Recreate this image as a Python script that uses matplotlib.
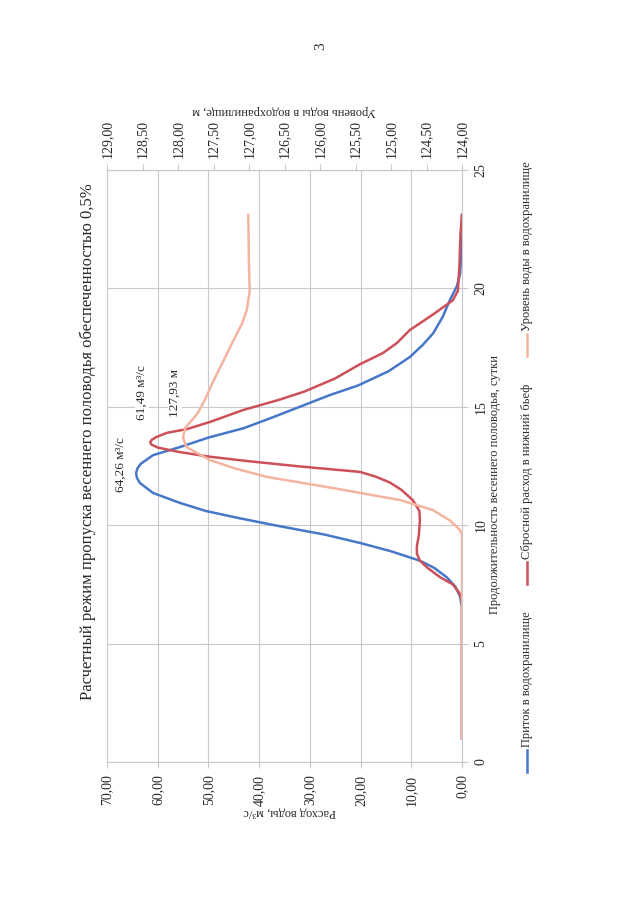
import numpy as np
import matplotlib.pyplot as plt

plt.rcParams['font.family'] = ['Liberation Serif', 'DejaVu Serif']

# inflow into the reservoir, m3/s
inflow_days = [1, 6.5, 7.0, 7.4, 7.8, 8.2, 8.5, 8.9, 9.25, 9.6, 10.0, 10.3, 10.6, 10.94, 11.36,
               11.78, 12.0, 12.2, 12.4, 12.6, 12.96, 13.3, 13.7, 14.1, 14.5, 15.0, 15.5, 15.9,
               16.5, 17.1, 17.6, 18.1, 18.8, 19.5, 20.1, 20.6, 21.5, 23.1]
inflow_q = [0, 0, 0.4, 1.3, 3.0, 5.5, 8.3, 14.0, 20.1, 27.0, 37.0, 44.0, 50.5, 55.6, 60.9,
            63.5, 64.1, 64.26, 64.0, 63.3, 60.9, 55.6, 50.0, 43.0, 38.0, 32.0, 26.0, 20.5,
            14.5, 10.3, 7.8, 5.7, 3.8, 2.4, 1.0, 0.4, 0.1, 0]

# release to the tailwater, m3/s
release_days = [1, 6.8, 7.1, 7.5, 7.8, 8.2, 8.5, 8.8, 9.1, 9.6, 10.2, 10.6, 11.06, 11.5, 11.8,
                12.05, 12.25, 12.48, 12.7, 12.9, 13.1, 13.28, 13.4, 13.5, 13.6, 13.72, 13.9,
                14.06, 14.36, 14.86, 15.3, 15.65, 16.2, 16.8, 17.27, 17.7, 18.24, 18.9, 19.5,
                19.9, 21.0, 22.3, 23.1]
release_q = [0, 0, 0.4, 1.8, 4.3, 6.8, 8.3, 8.9, 8.9, 8.5, 8.3, 8.4, 9.7, 12.0, 14.2,
             17.0, 20.1, 31.9, 42.0, 50.0, 56.0, 60.0, 61.2, 61.49, 61.2, 60.3, 58.2,
             54.2, 49.7, 43.2, 36.0, 31.0, 25.0, 20.1, 15.6, 12.8, 10.3, 5.7, 1.8,
             0.8, 0.5, 0.3, 0]

# water level in the reservoir, m
level_days = [1, 9.6, 9.8, 10.2, 10.64, 11.06, 11.57, 12.04, 12.4, 12.75, 13.3, 13.7, 14.1,
              14.7, 15.3, 16.1, 17.0, 17.8, 18.5, 19.1, 19.9, 20.9, 23.1]
level_h = [124.0, 124.0, 124.03, 124.17, 124.41, 124.87, 125.82, 126.75, 127.2, 127.55,
           127.88, 127.93, 127.9, 127.73, 127.62, 127.5, 127.35, 127.22, 127.1, 127.03,
           126.99, 127.0, 127.01]

flow_ticks = [0, 10, 20, 30, 40, 50, 60, 70]
flow_labels = ['0,00', '10,00', '20,00', '30,00', '40,00', '50,00', '60,00', '70,00']
level_ticks = [124, 124.5, 125, 125.5, 126, 126.5, 127, 127.5, 128, 128.5, 129]
level_labels = ['124,00', '124,50', '125,00', '125,50', '126,00', '126,50', '127,00',
                '127,50', '128,00', '128,50', '129,00']
day_ticks = [0, 5, 10, 15, 20, 25]

series_names = ['Приток в водохранилище', 'Сбросной расход в нижний бьеф',
                'Уровень воды в водохранилище']
colors = ['#4677C8', '#CD5059', '#F4B49E']
grid_c = '#c8c8ce'
text_c = '#2a2a2a'

W, H = 640, 924
fig = plt.figure(figsize=(6.4, 9.24), dpi=100)


def fx(x):
    return x / W


def fy(y):
    return 1 - y / H


# the page is turned by 90 degrees, so days go up and flow goes to the left
ax = fig.add_axes([fx(107), fy(762), (462 - 107) / W, (762 - 170) / H])
ax.set_xlim(70, 0)
ax.set_ylim(0, 25)
ax.plot(inflow_q, inflow_days, color=colors[0], lw=1.8, solid_joinstyle='round')
ax.plot(release_q, release_days, color=colors[1], lw=1.8, solid_joinstyle='round')

ax.set_xticks(flow_ticks)
ax.set_xticklabels(flow_labels)
ax.set_yticks(day_ticks)
ax.yaxis.tick_right()
ax.grid(True, color=grid_c, lw=0.8)
ax.set_axisbelow(True)
for s in ax.spines.values():
    s.set_color(grid_c)
    s.set_linewidth(0.8)
ax.tick_params(axis='x', direction='out', length=4, color=grid_c, labelsize=10,
               labelcolor=text_c, labelrotation=90, pad=5)
ax.tick_params(axis='y', direction='out', length=4, color=grid_c, labelsize=10,
               labelcolor=text_c, labelrotation=90, pad=5)
for lab in ax.get_yticklabels():
    lab.set_va('center')

ax2 = ax.twiny()
ax2.set_xlim(129, 124)
ax2.plot(level_h, level_days, color=colors[2], lw=1.8, solid_joinstyle='round')
ax2.set_xticks(level_ticks)
ax2.set_xticklabels(level_labels)
for name, s in ax2.spines.items():
    s.set_visible(name == 'top')
    s.set_color(grid_c)
    s.set_linewidth(0.8)
ax2.tick_params(axis='x', direction='out', length=4, color=grid_c, labelsize=10,
                labelcolor=text_c, labelrotation=90, pad=5)

# value labels at the peaks
box = dict(facecolor='white', edgecolor='none', pad=1)
ax.text(67.2, 12.55, '64,26 м³/с', rotation=90, ha='center', va='center',
        fontsize=9.5, color=text_c, bbox=box)
ax.text(63.1, 15.6, '61,49 м³/с', rotation=90, ha='center', va='center',
        fontsize=9.5, color=text_c, bbox=box)
ax.text(56.6, 15.6, '127,93 м', rotation=90, ha='center', va='center',
        fontsize=9.5, color=text_c, bbox=box)

# axis titles and the chart title
fig.text(fx(290), fy(812), 'Расход воды, м³/с', rotation=180, ha='center', va='center',
         fontsize=9, color=text_c)
fig.text(fx(284), fy(111), 'Уровень воды в водохранилище, м', rotation=180,
         ha='center', va='center', fontsize=9, color=text_c)
fig.text(fx(495), fy(484), 'Продолжительность весеннего половодья, сутки', rotation=90,
         ha='center', va='center', fontsize=9, color=text_c)
fig.text(fx(88), fy(442), 'Расчетный режим пропуска весеннего половодья обеспеченностью 0,5%',
         rotation=90, ha='center', va='center', fontsize=12, color=text_c)
fig.text(fx(321), fy(46), '3', rotation=90, ha='center', va='center', fontsize=11,
         color=text_c)

# legend, drawn by hand because it is turned as well
legend_line_y = [(772, 750), (584, 562), (356, 334)]
lx = 527
for (y0, y1), name, c in zip(legend_line_y, series_names, colors):
    fig.add_artist(plt.Line2D([fx(lx), fx(lx)], [fy(y0), fy(y1)], color=c, lw=1.8,
                              transform=fig.transFigure))
    fig.text(fx(lx), fy(y1 - 3), name, rotation=90, ha='center', va='bottom',
             fontsize=9, color=text_c)

fig.savefig('out.png', dpi=100, facecolor='white')
